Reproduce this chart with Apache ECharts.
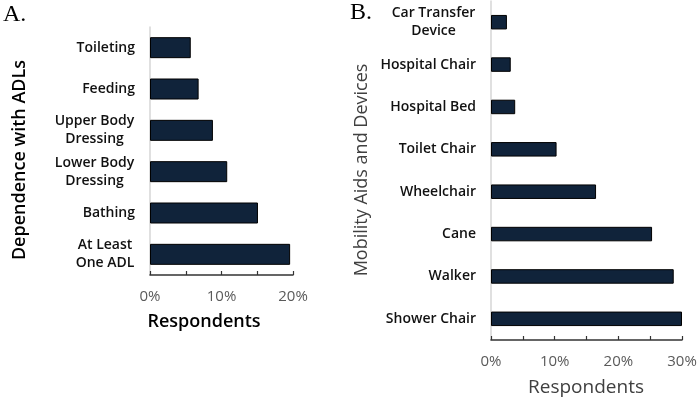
<!DOCTYPE html>
<html>
<head>
<meta charset="utf-8">
<script src="https://cdn.jsdelivr.net/npm/echarts@6/dist/echarts.min.js"></script>
<style>
    html, body {margin: 0; padding: 0; background: #fff;}
    #main {width: 700px; height: 404px;}
</style>
</head>
<body>
<div id="main"></div>
<script>
    // panel A, listed top to bottom
    let adlCategories = ['Toileting', 'Feeding', 'Upper Body\nDressing', 'Lower Body\nDressing', 'Bathing', 'At Least\nOne ADL'];
    let adlValues = [5.7, 6.8, 8.8, 10.8, 15.1, 19.6];
    let adlTicks = [0, 10, 20];

    // panel B, listed top to bottom
    let aidCategories = ['Car Transfer\nDevice', 'Hospital Chair', 'Hospital Bed', 'Toilet Chair', 'Wheelchair', 'Cane', 'Walker', 'Shower Chair'];
    let aidValues = [2.5, 3.1, 3.8, 10.3, 16.5, 25.3, 28.7, 30.0];
    let aidTicks = [0, 10, 20, 30];

    let font = 'Open Sans';
    let labelWeight = 600;
    let barColor = '#10233a';

    // two-line labels are centred line by line, single lines stay right aligned
    let ctx = document.createElement('canvas').getContext('2d');
    ctx.font = labelWeight + ' 14px "' + font + '"';

    function richFor(cats) {
        let rich = {};
        cats.forEach((c, i) => {
            let lines = c.split('\n');
            let w = Math.max.apply(null, lines.map(l => ctx.measureText(l).width));
            rich['l' + i] = {width: Math.ceil(w) + 1, align: 'center', lineHeight: 18};
        });
        return rich;
    }

    function pctLabel(ticks) {
        return function (v) {
            return ticks.indexOf(Math.round(v)) >= 0 ? Math.round(v) + '%' : '';
        };
    }

    function valueAxis(gridIndex, max, ticks, size) {
        return {
            type: 'value',
            gridIndex: gridIndex,
            min: 0,
            max: max,
            interval: 5,
            axisLine: {show: true, lineStyle: {color: '#333', width: 1.5}},
            axisTick: {show: true, inside: true, length: 4, lineStyle: {color: '#333', width: 1.2}},
            axisLabel: {
                margin: 14, color: '#5a5a5a', fontSize: size, fontFamily: font,
                formatter: pctLabel(ticks), showMinLabel: true, showMaxLabel: true
            },
            splitLine: {show: false}
        };
    }

    function catAxis(gridIndex, data) {
        return {
            type: 'category',
            gridIndex: gridIndex,
            data: data,
            inverse: true,
            axisLine: {show: true, lineStyle: {color: '#d6d6d6', width: 1.5}},
            axisTick: {show: false},
            axisLabel: {
                margin: 15, color: '#111', fontSize: 14, fontFamily: font, fontWeight: labelWeight,
                lineHeight: 18, interval: 0,
                rich: richFor(data),
                formatter: function (v, i) {
                    if (v.indexOf('\n') < 0) return v;
                    return v.split('\n').map(l => '{l' + i + '|' + l + '}').join('\n');
                }
            }
        };
    }

    let chart = echarts.init(document.getElementById('main'));
    let option = {
        backgroundColor: '#fff',
        animation: false,
        grid: [
            {left: 150, right: 407, top: 27, bottom: 129},
            {left: 491, right: 18, top: 1, bottom: 64}
        ],
        xAxis: [valueAxis(0, 20, adlTicks, 15), valueAxis(1, 30, aidTicks, 15)],
        yAxis: [catAxis(0, adlCategories), catAxis(1, aidCategories)],
        series: [
            {
                type: 'bar', xAxisIndex: 0, yAxisIndex: 0, data: adlValues, barWidth: 21,
                itemStyle: {color: barColor, borderColor: '#000', borderWidth: 1}
            },
            {
                type: 'bar', xAxisIndex: 1, yAxisIndex: 1, data: aidValues, barWidth: 14.5,
                itemStyle: {color: barColor, borderColor: '#000', borderWidth: 1}
            }
        ],
        graphic: [
            {type: 'text', left: 3, top: 3, style: {text: 'A.', font: '24px "Liberation Serif"', fill: '#000'}},
            {type: 'text', left: 350, top: 1, style: {text: 'B.', font: '24px "Liberation Serif"', fill: '#000'}},
            {
                type: 'text', x: 204, y: 322,
                style: {text: 'Respondents', font: '600 18px "Open Sans"', fill: '#000', align: 'center', verticalAlign: 'middle'}
            },
            {
                type: 'text', x: 586, y: 388,
                style: {text: 'Respondents', font: '19px "Open Sans"', fill: '#404040', align: 'center', verticalAlign: 'middle'}
            },
            {
                type: 'text', x: 20, y: 160, rotation: Math.PI / 2,
                style: {text: 'Dependence with ADLs', font: '600 18px "Open Sans"', fill: '#000', align: 'center', verticalAlign: 'middle'}
            },
            {
                type: 'text', x: 362, y: 170, rotation: Math.PI / 2,
                style: {text: 'Mobility Aids and Devices', font: '18px "Open Sans"', fill: '#404040', align: 'center', verticalAlign: 'middle'}
            }
        ]
    };
    chart.setOption(option);
</script>
</body>
</html>
